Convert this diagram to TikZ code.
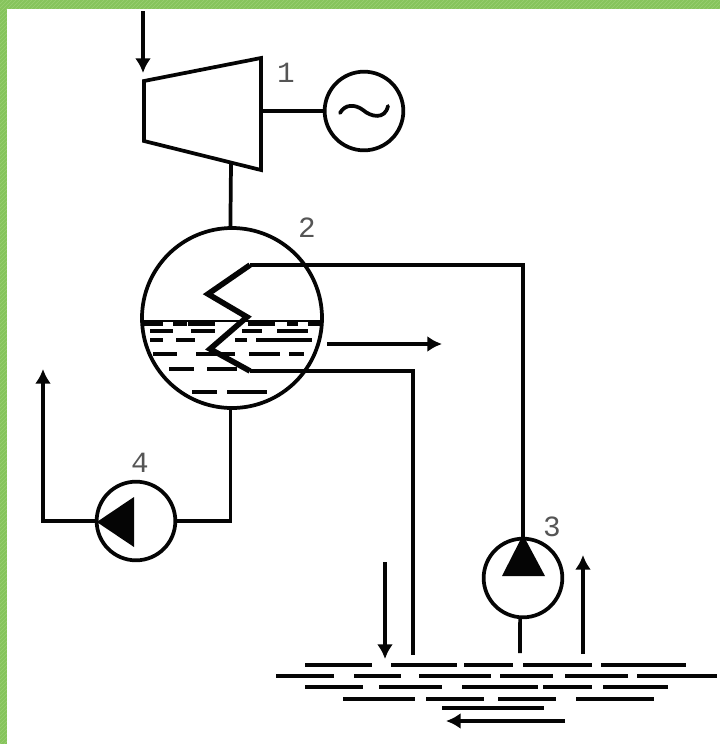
\documentclass[tikz,border=0pt]{standalone}
\usepackage{fontspec}
\setmainfont{Liberation Mono}
\usepackage{tikz}
\usetikzlibrary{arrows.meta,patterns}
\definecolor{frame1}{HTML}{86C45C}
\definecolor{frame2}{HTML}{9AD072}
\definecolor{ink1}{HTML}{050505}
\definecolor{ink2}{HTML}{555555}
\tikzset{
  pipe/.style={draw=ink1, line width=2.8pt},
  flow/.style={pipe, -{Latex[length=11pt,width=12pt]}},
  coil/.style={draw=ink1, line width=4.2pt, line join=miter},
  water/.style={draw=ink1, line width=2.6pt},
  machine/.style={circle, draw=ink1, line width=2.8pt, fill=white, inner sep=0pt, minimum size=59pt},
  tag/.style={font=\fontsize{22}{22}\selectfont, text=ink2, inner sep=0pt}
}

\begin{document}
\begin{tikzpicture}[x=0.75pt, y=-0.75pt]
\useasboundingbox (0,0) rectangle (720,744);
\fill[frame1] (0,0) rectangle (720,744);
\fill[pattern=north east lines, pattern color=frame2] (0,0) rectangle (720,744);
\fill[white] (7,9) rectangle (720,744);
% turbine
\coordinate (tbl) at (144,81);
\coordinate (tbr) at (261,58);
\coordinate (tcr) at (261,170);
\coordinate (tcl) at (144,141);
\coordinate (tshaft) at (231,164);
\coordinate (tout) at (261,111);
\coordinate (steam) at (143,11);
\coordinate (steamin) at (143,73);
\draw[pipe, line join=miter] (tbl) -- (tbr) -- (tcr) -- (tcl) -- cycle;
\draw[flow] (steam) -- (steamin);
\node[machine] (gen) at (364,111) {};
\draw[pipe] (tout) -- (gen.west);
\draw[ink1, line width=2.8pt, line cap=round] (340,113) .. controls (345,104) and (355,104) .. (363,110) .. controls (371,117) and (385,120) .. (388,106);
% condenser
\node[machine, minimum size=135pt] (drum) at (232,318) {};
\draw[pipe] (tshaft) -- (drum.91);
\draw[ink1, line width=1.5pt] (143,321) -- (320,321);
\draw[water] (143,324) -- (163,324) (173,324) -- (187,324) (188,324) -- (215,324) (248,324) -- (275,324) (287,324) -- (298,324) (308,324) -- (320,324);
\draw[water] (150,331) -- (173,331) (191,331) -- (215,331) (242,331) -- (262,331) (277,331) -- (308,331);
\draw[water] (150,340) -- (163,340) (176,340) -- (195,340) (235,340) -- (247,340) (256,340) -- (312,340);
\draw[water] (153,354) -- (177,354) (196,354) -- (235,354) (249,354) -- (280,354) (289,354) -- (304,354);
\draw[water] (169,369) -- (194,369) (207,369) -- (237,369);
\draw[water] (192,392) -- (217,392) (227,392) -- (267,392);
\coordinate (coilin) at (250,265);
\coordinate (coil1) at (208,294);
\coordinate (coil2) at (247,317);
\coordinate (coil3) at (210,349);
\coordinate (coilout) at (250,371);
\draw[coil] (coilin) -- (coil1) -- (coil2) -- (coil3) -- (coilout);
\coordinate (hotout) at (327,344);
\coordinate (hotend) at (442,344);
\draw[flow] (hotout) -- (hotend);
% pumps
\node[machine] (pump3) at (523,578) {};
\node[machine] (pump4) at (136,521) {};
\draw[pipe] (coilin) -| (pump3.north);
\fill[ink1] (pump3.north) ++(0,-2) -- (545,576) -- (502,576) -- cycle;
\fill[ink1] (pump4.west) ++(2,1) -- (134,497) -- (134,547) -- cycle;
\coordinate (feedout) at (43,521);
\coordinate (feedend) at (43,369);
\draw[pipe] (drum.269) |- (pump4.east);
\draw[flow] (pump4.west) -- (feedout) -- (feedend);
\coordinate (coolin) at (413,655);
\coordinate (coolsuck) at (520,653);
\draw[pipe] (coilout) -| (coolin);
\draw[pipe] (pump3.266) -- (coolsuck);
% cooling water
\coordinate (downa) at (385,562);
\coordinate (downb) at (385,659);
\coordinate (upa) at (583,654);
\coordinate (upb) at (583,555);
\coordinate (riverr) at (565,721);
\coordinate (riverl) at (446,721);
\draw[flow] (downa) -- (downb);
\draw[flow] (upa) -- (upb);
\draw[flow] (riverr) -- (riverl);
\draw[water] (305,665) -- (372,665) (391,665) -- (457,665) (464,665) -- (513,665) (523,665) -- (592,665) (601,665) -- (686,665);
\draw[water] (276,676) -- (334,676) (354,676) -- (401,676) (419,676) -- (491,676) (500,676) -- (553,676) (565,676) -- (628,676) (637,676) -- (717,676);
\draw[water] (305,687) -- (363,687) (379,687) -- (442,687) (462,687) -- (538,687) (543,687) -- (592,687) (603,687) -- (668,687);
\draw[water] (343,699) -- (415,699) (426,699) -- (484,699) (498,699) -- (556,699) (576,699) -- (654,699);
\draw[water] (442,708) -- (544,708);
% labels
\node[tag] (lab1) at (286,73) {1};
\node[tag] (lab2) at (307,228) {2};
\node[tag] (lab3) at (552,527) {3};
\node[tag] (lab4) at (140,463) {4};
\end{tikzpicture}
\end{document}
